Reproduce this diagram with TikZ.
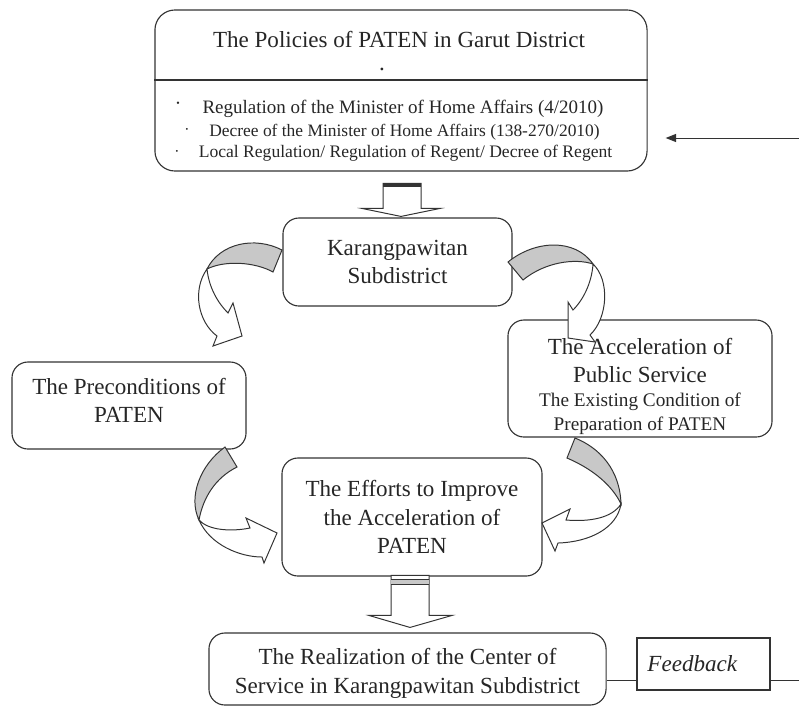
\documentclass[tikz,border=0pt]{standalone}
\usepackage{fontspec}
\setmainfont{Liberation Serif}
\usetikzlibrary{arrows.meta}
\definecolor{inkgray}{HTML}{333333}
\definecolor{bandgray}{HTML}{C8C8C8}

\tikzset{
  roundbox/.style={draw=inkgray, line width=0.8pt, rounded corners=0.4cm, align=center,
    text=black!85, font=\fontsize{16.4}{19.5}\selectfont, inner sep=0pt},
  boxtext/.style={align=center, text=black!85, font=\fontsize{16.4}{19.5}\selectfont, inner sep=0pt},
  blockarrow/.style={draw=inkgray, line width=0.7pt, fill=white},
  ribbonback/.style={draw=inkgray, line width=0.7pt, fill=bandgray},
  ribbonfront/.style={draw=inkgray, line width=0.7pt, fill=white},
  plain/.style={text=black!85, inner sep=0pt},
}

\begin{document}
\begin{tikzpicture}[x=0.025cm, y=-0.025cm]
\useasboundingbox (0,0) rectangle (799,706);

% boxes
\node[roundbox, rounded corners=0.5cm, minimum width=12.3cm, minimum height=4.025cm] (policy) at (401,90.5) {};
\draw[draw=inkgray, line width=0.8pt] (policy.west |- 0,80) -- (policy.east |- 0,80);
\node[plain, font=\fontsize{16.4}{19.5}\selectfont] (policytitle) at (399,39) {The Policies of PATEN in Garut District};
\node[plain, font=\fontsize{16.4}{19.5}\selectfont] (policydot) at (382,69) {.};
\node[plain, font=\fontsize{13.5}{16}\selectfont] (reg1) at (403,109) {Regulation of the Minister of Home Affairs (4/2010)};
\node[plain, font=\fontsize{12.4}{15}\selectfont] (reg2) at (404.5,132) {Decree of the Minister of Home Affairs (138-270/2010)};
\node[plain, font=\fontsize{12.5}{15}\selectfont] (reg3) at (405.5,153) {Local Regulation/ Regulation of Regent/ Decree of Regent};
\node[plain, font=\fontsize{7}{8}\selectfont] (dot1) at (178,104) {\textbullet};
\node[plain, font=\fontsize{11}{12}\selectfont] (dot2) at (187,131) {\textperiodcentered};
\node[plain, font=\fontsize{11}{12}\selectfont] (dot3) at (177,153) {\textperiodcentered};

\node[roundbox, minimum width=5.725cm, minimum height=2.2cm] (karang) at (397.5,262) {Karangpawitan\\Subdistrict};

\node[roundbox, minimum width=6.6cm, minimum height=2.925cm] (accel) at (640,378.5) {};
\node[boxtext] (acceltext) at ([yshift=-0.2cm]accel.center)
  {The Acceleration of\\Public Service\\[-2pt]
   \fontsize{13.7}{16}\selectfont The Existing Condition of\\[-3pt]
   \fontsize{13.7}{16}\selectfont Preparation of PATEN};

\node[roundbox, minimum width=5.85cm, minimum height=2.175cm] (precond) at (129,405.5) {};
\node[boxtext] (precondtext) at ([yshift=0.13cm]precond.center) {The Preconditions of\\PATEN};

\node[roundbox, minimum width=6.5cm, minimum height=2.95cm, font=\fontsize{16.4}{20.5}\selectfont] (efforts) at (412,517)
  {The Efforts to Improve\\the Acceleration of\\PATEN};

\node[roundbox, minimum width=9.925cm, minimum height=1.8cm] (realize) at (407.5,669) {};
\node[boxtext, font=\fontsize{16.4}{20.5}\selectfont] (realizetext) at ([yshift=-0.1cm]realize.center)
  {The Realization of the Center of\\Service in Karangpawitan Subdistrict};

\node[draw=inkgray, line width=0.8pt, text=black!85, align=left, text width=2.8cm, inner xsep=0.2625cm,
  minimum height=1.3cm, font=\fontsize{16.4}{19.5}\selectfont\itshape] (feedback) at (703.5,664) {Feedback};

% incoming line and feedback line
\coordinate (policyin) at (799,138);
\draw[draw=inkgray, line width=0.7pt, -{Triangle[length=2.6mm, width=2mm]}, shorten >=0.45cm] (policyin) -- (policy.east |- policyin);
\coordinate (fbout) at (799,680);
\draw[draw=inkgray, line width=0.7pt] (realize.east |- fbout) -- (feedback.west |- fbout);
\draw[draw=inkgray, line width=0.7pt] (feedback.east |- fbout) -- (fbout);

% block arrows
\begin{scope}[shift={(karang.north)}]
  \draw[blockarrow] (-14.5,-34) -- (-14.5,-9) -- (-35.5,-9) -- (3.5,-1) -- (42.5,-9) -- (23.5,-9) -- (23.5,-34) -- cycle;
  \fill[inkgray] (-14.5,-34) rectangle (23.5,-30);
\end{scope}
\begin{scope}[shift={(realize.north)}]
  \draw[blockarrow] (-16.5,-57) -- (-16.5,-17) -- (-38.5,-17) -- (2.5,-5) -- (44.5,-17) -- (21.5,-17) -- (21.5,-57) -- cycle;
  \fill[bandgray] (-16.5,-53) rectangle (21.5,-48);
  \draw[draw=inkgray, line width=1pt] (-16.5,-53) -- (21.5,-53);
  \draw[draw=inkgray, line width=1pt] (-16.5,-48) -- (21.5,-48);
\end{scope}

% curved arrows
\draw[ribbonback] (282,250) .. controls (255,236) and (220,243) .. (207,269)
  .. controls (225,260) and (255,262) .. (273,272) -- cycle;
\draw[ribbonfront] (207,269) .. controls (192,290) and (198,322) .. (217,336) -- (213,346) -- (242,336)
  -- (233,303) -- (228,313) .. controls (218,303) and (209,288) .. (207,269) -- cycle;

\draw[ribbonback] (508,262) .. controls (535,240) and (575,238) .. (593,264)
  .. controls (575,258) and (545,262) .. (523,280) -- cycle;
\draw[ribbonfront] (593,264) .. controls (610,280) and (608,318) .. (590,335) -- (595,342) -- (568,338)
  -- (568,302) -- (573,310) .. controls (585,298) and (592,280) .. (593,264) -- cycle;

\draw[ribbonback] (225,447) .. controls (200,465) and (188,497) .. (199,520)
  .. controls (203,498) and (215,478) .. (237,467) -- cycle;
\draw[ribbonfront] (199,520) .. controls (210,545) and (240,557) .. (262,557) -- (264,563) -- (277,533)
  -- (246,518) -- (250,528) .. controls (230,532) and (208,530) .. (199,520) -- cycle;

\draw[ribbonback] (575,438) .. controls (600,448) and (620,470) .. (621,504)
  .. controls (613,487) and (595,470) .. (567,458) -- cycle;
\draw[ribbonfront] (621,504) .. controls (617,528) and (590,542) .. (558,543) -- (555,551) -- (542,523)
  -- (570,509) -- (566,520) .. controls (590,522) and (612,518) .. (621,504) -- cycle;
\end{tikzpicture}
\end{document}
